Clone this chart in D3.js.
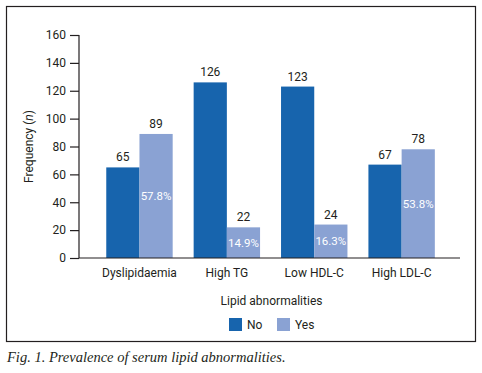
<!doctype html>
<html>
<head>
<meta charset="utf-8">
<style>
  body { margin: 0; background: #fff; }
  svg { display: block; }
  text { font-family: Roboto, sans-serif; fill: #231f20; }
  .tick text { font-size: 12px; }
  .caption { font-family: 'Liberation Serif', serif; font-style: italic; font-size: 14.5px; }
</style>
<script src="https://d3js.org/d3.v7.min.js"></script>
</head>
<body>
<svg width="482" height="373"></svg>
<script>
const categories = ['Dyslipidaemia', 'High TG', 'Low HDL-C', 'High LDL-C'];
const seriesNames = ['No', 'Yes'];
const noValues = [65, 126, 123, 67];
const yesValues = [89, 22, 24, 78];
const yesPercent = ['57.8%', '14.9%', '16.3%', '53.8%'];
const yTicks = [0, 20, 40, 60, 80, 100, 120, 140, 160];

const colors = { No: '#1764ad', Yes: '#8aa2d3' };

const svg = d3.select('svg');

// outer frame
svg.append('rect')
  .attr('x', 6.5).attr('y', 6.5)
  .attr('width', 469).attr('height', 335)
  .attr('fill', 'none')
  .attr('stroke', '#231f20')
  .attr('stroke-width', 1.2);

const plotL = 79, plotR = 460, plotT = 35, plotB = 258;

const x = d3.scaleBand()
  .domain(categories)
  .range([plotL, plotR])
  .paddingInner(0.24)
  .paddingOuter(0.3)
  .align(0.52);

const x1 = d3.scaleBand()
  .domain(seriesNames)
  .range([0, x.bandwidth()]);

const y = d3.scaleLinear()
  .domain([0, 160])
  .range([plotB, plotT]);

const rows = categories.map((c, i) => ({
  cat: c,
  vals: [
    { key: 'No', v: noValues[i] },
    { key: 'Yes', v: yesValues[i], pct: yesPercent[i] }
  ]
}));

const groups = svg.selectAll('g.grp')
  .data(rows)
  .enter().append('g')
  .attr('class', 'grp')
  .attr('transform', d => `translate(${x(d.cat)},0)`);

const bars = groups.selectAll('g.bar')
  .data(d => d.vals)
  .enter().append('g');

bars.append('rect')
  .attr('x', d => x1(d.key))
  .attr('y', d => y(d.v))
  .attr('width', x1.bandwidth())
  .attr('height', d => y(0) - y(d.v))
  .attr('fill', d => colors[d.key]);

bars.append('text')
  .attr('x', d => x1(d.key) + x1.bandwidth() / 2)
  .attr('y', d => y(d.v) - 6)
  .attr('text-anchor', 'middle')
  .attr('font-size', 12)
  .text(d => d.v);

bars.filter(d => d.pct)
  .append('text')
  .attr('x', d => x1(d.key) + x1.bandwidth() / 2)
  .attr('y', d => (y(d.v) + y(0)) / 2 + 4)
  .attr('text-anchor', 'middle')
  .attr('font-size', 11.5)
  .style('fill', '#fff')
  .text(d => d.pct);

// y axis
const yAxis = svg.append('g')
  .attr('transform', `translate(${plotL},0)`)
  .call(d3.axisLeft(y).tickValues(yTicks).tickSize(9).tickPadding(4));
yAxis.selectAll('path, line').attr('stroke', '#231f20').attr('stroke-width', 1.2);
yAxis.select('.domain').attr('d', `M0,${plotT}V${plotB}`);

// x axis
const xAxis = svg.append('g')
  .attr('transform', `translate(0,${plotB})`)
  .call(d3.axisBottom(x).tickSize(0).tickPadding(10));
xAxis.select('.domain').attr('d', `M${plotL},0H${plotR}`)
  .attr('stroke', '#231f20').attr('stroke-width', 1.2);

// y title
const yt = svg.append('text')
  .attr('transform', `translate(33,${(plotT + plotB) / 2}) rotate(-90)`)
  .attr('text-anchor', 'middle')
  .attr('font-size', 12);
yt.append('tspan').text('Frequency (');
yt.append('tspan').attr('font-style', 'italic').text('n');
yt.append('tspan').text(')');

// x title
svg.append('text')
  .attr('x', (plotL + plotR) / 2 + 2)
  .attr('y', 305)
  .attr('text-anchor', 'middle')
  .attr('font-size', 12)
  .text('Lipid abnormalities');

// legend
const legend = svg.append('g')
  .attr('transform', 'translate(229,318)');
const items = legend.selectAll('g')
  .data(seriesNames)
  .enter().append('g')
  .attr('transform', (d, i) => `translate(${i * 48},0)`);
items.append('rect')
  .attr('width', 13).attr('height', 13)
  .attr('fill', d => colors[d]);
items.append('text')
  .attr('x', 18).attr('y', 11)
  .attr('font-size', 12)
  .text(d => d);

// caption
svg.append('text')
  .attr('class', 'caption')
  .attr('x', 7)
  .attr('y', 362)
  .text('Fig. 1. Prevalence of serum lipid abnormalities.');
</script>
</body>
</html>
